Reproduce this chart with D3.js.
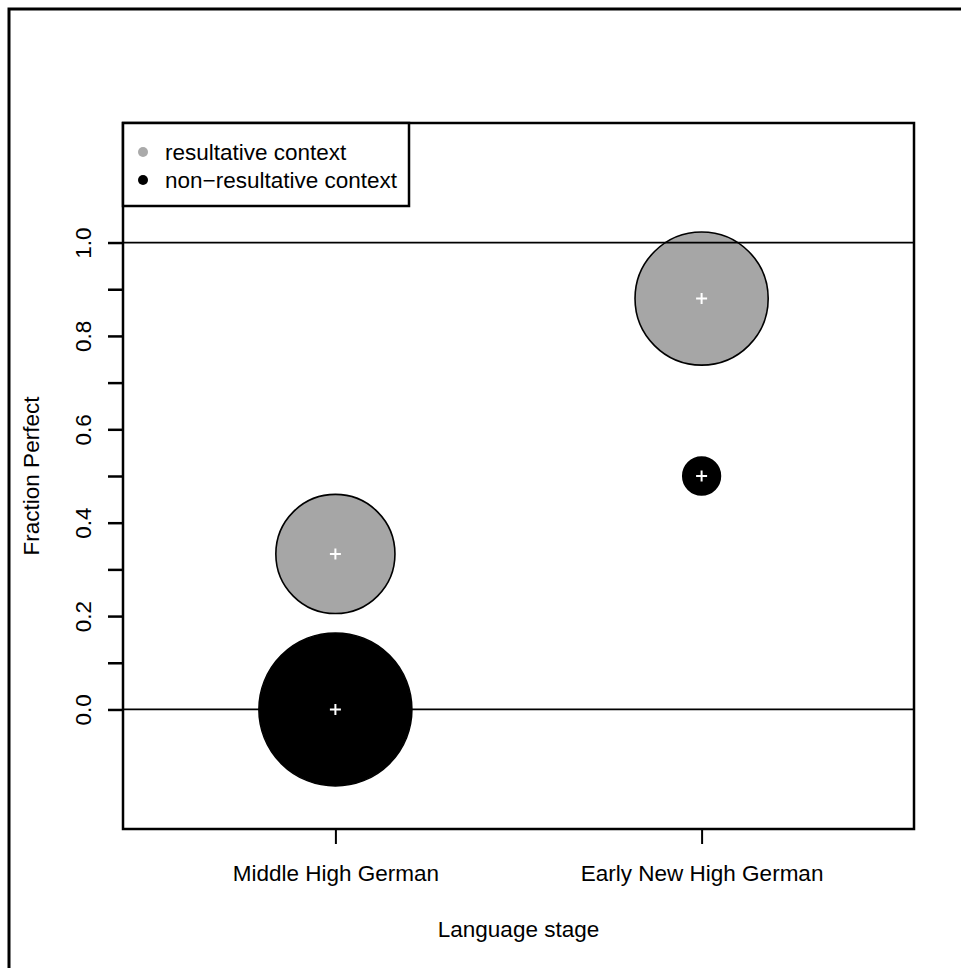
<!DOCTYPE html>
<html>
<head>
<meta charset="utf-8">
<script src="https://cdn.jsdelivr.net/npm/d3@7"></script>
<style>
  body { margin: 0; background: #fff; }
  svg text { font-family: "Liberation Sans", Arial, sans-serif; font-size: 22.5px; fill: #000; }
</style>
</head>
<body>
<div id="chart"></div>
<script>
// language stages on the x axis
const stages = ["Middle High German", "Early New High German"];
// series: fraction perfect per stage, with token counts (circle area)
const contexts = ["resultative context", "non\u2212resultative context"];
const contextColors = ["#a6a6a6", "#000000"];
const resultFraction = [0.333, 0.88];
const resultTokens = [20, 25];
const nonResultFraction = [0.0, 0.5];
const nonResultTokens = [33, 2];
// y axis ticks and labels
const yTicks = [0, 0.1, 0.2, 0.3, 0.4, 0.5, 0.6, 0.7, 0.8, 0.9, 1.0];
const yTickLabels = ["0.0", "", "0.2", "", "0.4", "", "0.6", "", "0.8", "", "1.0"];
const refLines = [0, 1];

const W = 961, H = 968;
const box = {left: 123, right: 914, top: 123, bottom: 829};

const svg = d3.select("#chart").append("svg").attr("width", W).attr("height", H);

// outer frame (cropped at right/bottom)
svg.append("rect").attr("x", 9).attr("y", 9).attr("width", W).attr("height", H)
  .attr("fill", "none").attr("stroke", "#000").attr("stroke-width", 3);

// scales, R style 4% extension of xlim c(0.5,2.5) and ylim c(-0.2,1.2)
const xScale = d3.scaleLinear().domain([0.42, 2.58]).range([box.left, box.right]);
const yScale = d3.scaleLinear().domain([-0.256, 1.256]).range([box.bottom, box.top]);
const rScale = d3.scaleSqrt().domain([0, 33]).range([0, 76.5]);

let points = [];
stages.forEach((s, i) => {
  points.push({x: i + 1, y: resultFraction[i], n: resultTokens[i], c: 0});
  points.push({x: i + 1, y: nonResultFraction[i], n: nonResultTokens[i], c: 1});
});
// big circles first so small ones stay visible
points.sort((a, b) => b.n - a.n);

svg.append("g").selectAll("circle").data(points).enter().append("circle")
  .attr("cx", d => xScale(d.x)).attr("cy", d => yScale(d.y))
  .attr("r", d => rScale(d.n))
  .attr("fill", d => contextColors[d.c]).attr("stroke", "#000").attr("stroke-width", 1.6);

// horizontal reference lines
svg.append("g").selectAll("line").data(refLines).enter().append("line")
  .attr("x1", box.left).attr("x2", box.right)
  .attr("y1", d => yScale(d)).attr("y2", d => yScale(d))
  .attr("stroke", "#000").attr("stroke-width", 1.8);

// white plus at each centre
svg.append("g").selectAll("path").data(points).enter().append("path")
  .attr("d", d => {
    let cx = xScale(d.x), cy = yScale(d.y);
    return "M" + (cx - 5.5) + "," + cy + "H" + (cx + 5.5) + "M" + cx + "," + (cy - 5.5) + "V" + (cy + 5.5);
  })
  .attr("stroke", "#fff").attr("stroke-width", 2).attr("fill", "none");

// x axis
const xAxis = d3.axisBottom(xScale).tickValues([1, 2]).tickSize(15).tickPadding(0)
  .tickFormat((d, i) => stages[i]);
const gx = svg.append("g").attr("transform", "translate(0," + box.bottom + ")").call(xAxis);
gx.select(".domain").remove();
gx.selectAll(".tick line").attr("stroke-width", 2);
gx.selectAll(".tick text").attr("y", 52).attr("dy", 0)
  .style("font-size", "22.5px").style("font-family", "'Liberation Sans', Arial, sans-serif");

// y axis
const yAxis = d3.axisLeft(yScale).tickValues(yTicks).tickSize(15)
  .tickFormat((d, i) => yTickLabels[i]);
const gy = svg.append("g").attr("transform", "translate(" + box.left + ",0)").call(yAxis);
gy.select(".domain").remove();
gy.selectAll(".tick line").attr("stroke-width", 2.5);
gy.selectAll(".tick text").attr("x", 0).attr("y", -32).attr("dy", 0)
  .attr("transform", "rotate(-90)").attr("text-anchor", "middle")
  .style("font-size", "22.5px").style("font-family", "'Liberation Sans', Arial, sans-serif");

// plot box
svg.append("rect").attr("x", box.left).attr("y", box.top)
  .attr("width", box.right - box.left).attr("height", box.bottom - box.top)
  .attr("fill", "none").attr("stroke", "#000").attr("stroke-width", 2.5);

// axis titles
svg.append("text").attr("x", (box.left + box.right) / 2).attr("y", 937)
  .attr("text-anchor", "middle").text("Language stage");
svg.append("text").attr("transform", "translate(39," + (box.top + box.bottom) / 2 + ") rotate(-90)")
  .attr("text-anchor", "middle").text("Fraction Perfect");

// legend
const lg = svg.append("g");
lg.append("rect").attr("x", box.left).attr("y", box.top).attr("width", 286).attr("height", 83)
  .attr("fill", "#fff").attr("stroke", "#000").attr("stroke-width", 2.5);
const items = lg.selectAll("g.item").data(contexts).enter().append("g")
  .attr("transform", (d, i) => "translate(143," + (152 + i * 28) + ")");
items.append("circle").attr("r", 5).attr("fill", (d, i) => i === 0 ? "#aaaaaa" : "#000");
items.append("text").attr("x", 22).attr("dy", "0.35em").text(d => d);
</script>
</body>
</html>
